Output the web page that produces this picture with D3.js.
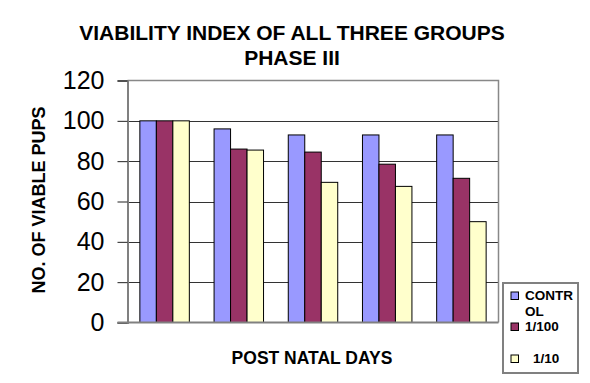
<!DOCTYPE html>
<html lang="en">
	<head>
		<meta charset="utf-8">
		<title>Viability index of all three groups</title>
		<script type="text/javascript" src="https://cdn.jsdelivr.net/npm/d3@7"></script>
		<style type="text/css">
			body { margin: 0; background: #fff; }
			text { font-family: Arial, "Liberation Sans", sans-serif; fill: #000; }
		</style>
	</head>
	<body>
		<script type="text/javascript">

			//Data
			let days = ["1", "2", "3", "4", "5"];
			let groups = ["CONTROL", "1/100", "1/10"];
			let control = [100, 96, 93, 93, 93];
			let dilution100 = [100, 86, 84.5, 78.5, 71.5];
			let dilution10 = [100, 85.5, 69.5, 67.5, 50];
			let yTicks = [0, 20, 40, 60, 80, 100, 120];

			let series = [control, dilution100, dilution10];
			let colors = ["#9999ff", "#993366", "#ffffcc"];

			//Width and height
			let w = 590;
			let h = 383;
			let plotLeft = 127.5, plotRight = 498.5, plotTop = 80.5, plotBottom = 322.5;

			let svg = d3.select("body")
						.append("svg")
						  .attr("width", w)
						  .attr("height", h);

			let x0 = d3.scaleBand()
						.domain(days)
						.range([plotLeft, plotRight])
						.paddingInner(1 / 3)
						.paddingOuter(1 / 6);
			let x1 = d3.scaleBand()
						.domain(d3.range(groups.length))
						.range([0, x0.bandwidth()]);
			let y = d3.scaleLinear()
						.domain([0, 120])
						.range([plotBottom, plotTop]);

			//Gridlines
			svg.append("g")
			  .selectAll("line")
			  .data(yTicks.filter(d => d > 0 && d < 120))
			  .enter()
			  .append("line")
			    .attr("x1", plotLeft)
			    .attr("x2", plotRight)
			    .attr("y1", d => Math.round(y(d)) + 0.5)
			    .attr("y2", d => Math.round(y(d)) + 0.5)
			    .attr("stroke", "#333");

			//Plot border (top, right)
			svg.append("path")
			    .attr("d", `M${plotLeft},${plotTop}H${plotRight}V${plotBottom}`)
			    .attr("fill", "none")
			    .attr("stroke", "#888")
			    .attr("stroke-width", 1.5);

			//Bars
			let bars = svg.append("g")
			  .selectAll("g")
			  .data(days)
			  .enter()
			  .append("g")
			    .attr("transform", d => `translate(${x0(d)},0)`);

			bars.selectAll("rect")
			    .data((d, i) => series.map((s, k) => ({ k: k, v: s[i] })))
			    .enter()
			  .append("rect")
			    .attr("x", d => x1(d.k))
			    .attr("y", d => y(d.v))
			    .attr("width", x1.bandwidth())
			    .attr("height", d => y(0) - y(d.v))
			    .attr("fill", d => colors[d.k])
			    .attr("stroke", "#000")
			    .attr("stroke-width", 1);

			//Y axis
			let yAxis = svg.append("g")
			    .attr("transform", `translate(${plotLeft},0)`)
			    .call(d3.axisLeft(y).tickValues(yTicks).tickSize(10).tickPadding(13));
			yAxis.select(".domain").attr("stroke", "#808080").attr("stroke-width", 2);
			yAxis.selectAll(".tick line").attr("stroke", "#222");
			yAxis.selectAll(".tick text")
			    .style("font-size", "25px")
			    .attr("fill", "#000");

			//X axis line
			svg.append("line")
			    .attr("x1", plotLeft - 10)
			    .attr("x2", plotRight)
			    .attr("y1", plotBottom)
			    .attr("y2", plotBottom)
			    .attr("stroke", "#808080")
			    .attr("stroke-width", 2);

			//Titles
			svg.append("text")
			    .attr("x", 292)
			    .attr("y", 40)
			    .attr("text-anchor", "middle")
			    .style("font-size", "21px")
			    .style("font-weight", "bold")
			    .text("VIABILITY INDEX OF ALL THREE GROUPS");
			svg.append("text")
			    .attr("x", 292)
			    .attr("y", 65)
			    .attr("text-anchor", "middle")
			    .style("font-size", "21px")
			    .style("font-weight", "bold")
			    .text("PHASE III");

			svg.append("text")
			    .attr("x", 312)
			    .attr("y", 364)
			    .attr("text-anchor", "middle")
			    .style("font-size", "17.5px")
			    .style("font-weight", "bold")
			    .text("POST NATAL DAYS");

			svg.append("text")
			    .attr("transform", "translate(45,200) rotate(-90)")
			    .attr("text-anchor", "middle")
			    .style("font-size", "18px")
			    .style("font-weight", "bold")
			    .text("NO. OF VIABLE PUPS");

			//Legend
			let legend = svg.append("g");
			legend.append("rect")
			    .attr("x", 503)
			    .attr("y", 283)
			    .attr("width", 75)
			    .attr("height", 90)
			    .attr("fill", "#fff")
			    .attr("stroke", "#808080")
			    .attr("stroke-width", 2);

			let legendRows = [
				{ lines: ["CONTR", "OL"], y: 299.5, tx: 525 },
				{ lines: ["1/100"], y: 330.5, tx: 525 },
				{ lines: ["1/10"], y: 362.5, tx: 533 }
			];
			legendRows.forEach((r, i) => {
				legend.append("rect")
				    .attr("x", 511)
				    .attr("y", r.y - 7.5)
				    .attr("width", 7.5)
				    .attr("height", 7.5)
				    .attr("fill", colors[i])
				    .attr("stroke", "#000");
				let t = legend.append("text")
				    .attr("x", r.tx)
				    .attr("y", r.y)
				    .style("font-size", "13.5px")
				    .style("font-weight", "bold");
				r.lines.forEach((l, j) => {
					t.append("tspan")
					    .attr("x", r.tx)
					    .attr("dy", j === 0 ? 0 : 16)
					    .text(l);
				});
			});

		</script>
	</body>
</html>
